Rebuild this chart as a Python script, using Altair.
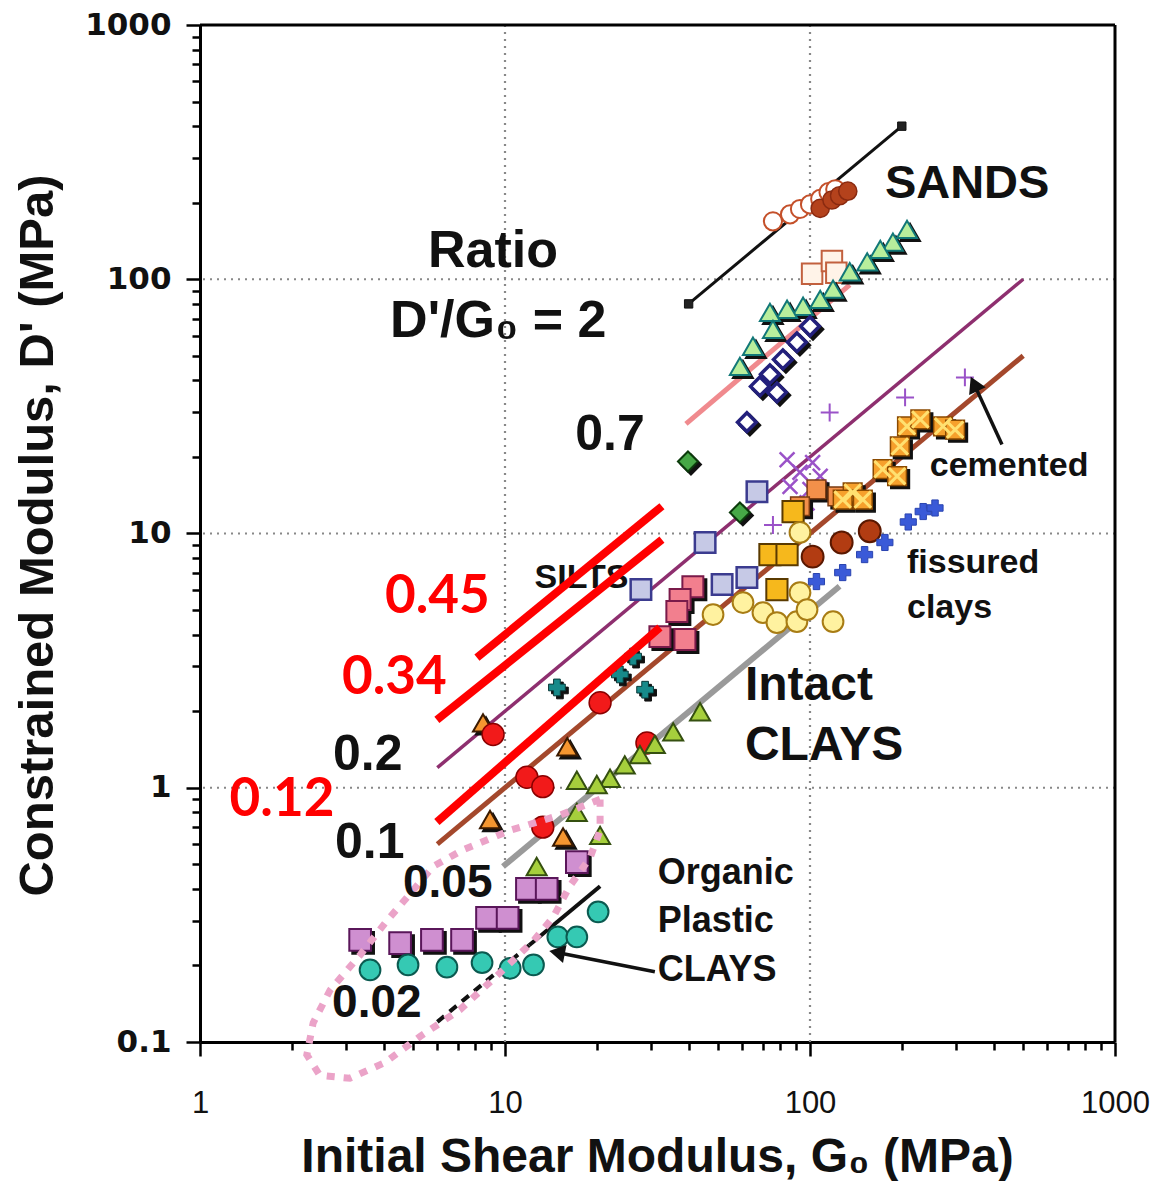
import altair as alt
import pandas as pd

# ---------------- axis ticks ----------------
x_ticks = [1, 2, 3, 4, 5, 6, 7, 8, 9, 10, 20, 30, 40, 50, 60, 70, 80, 90,
           100, 200, 300, 400, 500, 600, 700, 800, 900, 1000]
y_ticks = [0.1, 0.2, 0.3, 0.4, 0.5, 0.6, 0.7, 0.8, 0.9, 1, 2, 3, 4, 5, 6, 7, 8, 9,
           10, 20, 30, 40, 50, 60, 70, 80, 90, 100, 200, 300, 400, 500, 600, 700, 800, 900, 1000]
x_grid = [10, 100]
y_grid = [1, 10, 100]
frame_x = [1000]
frame_y = [1000]

# ---------------- ratio lines (endpoints) ----------------
line_r2_g = [40, 200];      line_r2_d = [80, 400]
line_r07_g = [39.2, 135];   line_r07_d = [27, 95]
line_r02_g = [6, 500];      line_r02_d = [1.2, 100]
line_r01_g = [6, 500];      line_r01_d = [0.6, 50]
line_r005_g = [9.85, 125];  line_r005_d = [0.49, 6.2]
line_r002a_g = [6, 12];     line_r002a_d = [0.12, 0.24]
line_r002b_g = [12, 20.5];  line_r002b_d = [0.24, 0.41]

red045_g = [8.09, 32.7];    red045_d = [3.25, 12.8]
red034_g = [5.98, 32.7];    red034_d = [1.85, 9.46]
red012_g = [5.98, 32.2];    red012_d = [0.734, 4.27]

loop_g = [20.5, 15.1, 10.4, 7.28, 5.81, 4.77, 4.10, 3.35, 2.67, 2.35, 2.24, 2.47, 3.10,
          4.04, 5.26, 7.12, 9.63, 12.4, 14.4, 16.3, 19.0, 20.5, 20.5]
loop_d = [0.90, 0.78, 0.68, 0.57, 0.49, 0.37, 0.30, 0.22, 0.160, 0.119, 0.089, 0.074, 0.072,
          0.083, 0.105, 0.134, 0.187, 0.25, 0.31, 0.41, 0.53, 0.68, 0.90]

# ---------------- data points ----------------
sand_oc_g = [75.6, 86, 92.7, 100, 108, 115, 121]
sand_oc_d = [169, 180, 189, 197, 207, 220, 226]
sand_fc_g = [108, 118, 125, 133]
sand_fc_d = [190, 205, 213, 222]
sand_sq_g = [101.6, 118, 122]
sand_sq_d = [105, 118, 106]
sand_tri_g = [208, 187, 170, 154, 135, 119, 108, 94.9, 84.1, 73.9, 75.6, 65.0, 58.9]
sand_tri_d = [157, 140, 131, 117, 107, 91.4, 83.4, 78.3, 76.2, 74.1, 63.5, 54.5, 45.4]
navy_dia_g = [100, 90.6, 81.5, 77.9, 68.5, 62.1, 73.9]
navy_dia_d = [65.3, 56.5, 48.4, 35.9, 37.9, 27.4, 42.3]
green_dia_g = [39.8, 58.9]
green_dia_d = [19.2, 12.1]
lav_sq_g = [67.0, 45.3, 51.5, 62.1, 27.9]
lav_sq_d = [14.6, 9.22, 6.30, 6.71, 6.02]
purple_plus_g = [116, 205, 322, 75.6]
purple_plus_d = [29.9, 34.3, 41.1, 10.8]
purple_x_g = [84.1, 92.7, 102, 86, 100, 97.8, 108]
purple_x_d = [19.5, 17.4, 19.0, 15.3, 14.9, 13.2, 16.8]
cement_g = [208, 230, 273, 299, 197, 173, 193, 138, 149, 128]
cement_d = [26.4, 28.1, 26.4, 25.6, 22.0, 17.9, 16.8, 14.5, 13.6, 13.6]
orange_sq_g = [123, 105, 92.7]
orange_sq_d = [14.0, 14.9, 12.8]
gold_sq_g = [88, 73.9, 84.1, 77.9]
gold_sq_d = [12.2, 8.26, 8.26, 6.02]
pale_c_g = [92.7, 92.7, 60.3, 70.1, 77.9, 90.6, 97.8, 119, 48.1]
pale_c_d = [10.1, 5.86, 5.35, 4.88, 4.46, 4.50, 5.02, 4.50, 4.80]
brown_c_g = [102, 127, 157]
brown_c_d = [8.11, 9.22, 10.2]
blue_plus_g = [105, 128, 151, 176, 210, 235, 257]
blue_plus_d = [6.47, 7.02, 8.26, 9.22, 11.1, 12.2, 12.6]
pink_sq_g = [41.3, 37.5, 36.6, 32.2, 38.9]
pink_sq_d = [6.18, 5.50, 4.93, 3.93, 3.83]
teal_x_g = [14.8, 23.8, 28.8, 26.3]
teal_x_d = [2.48, 2.79, 2.43, 3.28]
red_c_g = [9.14, 11.8, 13.3, 13.3, 20.5, 29.2]
red_c_d = [1.62, 1.10, 1.01, 0.70, 2.16, 1.50]
orange_tri_g = [8.47, 16.0, 8.93, 15.5]
orange_tri_d = [1.80, 1.45, 0.75, 0.64]
yg_tri_g = [43.6, 35.6, 31.0, 27.7, 24.7, 22.1, 20.0, 17.2, 17.2, 20.5, 12.7]
yg_tri_d = [1.99, 1.66, 1.48, 1.35, 1.23, 1.09, 1.03, 1.07, 0.80, 0.65, 0.49]
orchid_sq_g = [3.35, 4.53, 5.76, 7.23, 8.73, 10.2, 11.8, 13.7, 17.2]
orchid_sq_d = [0.252, 0.245, 0.252, 0.252, 0.308, 0.308, 0.40, 0.40, 0.51]
teal_c_g = [3.61, 4.81, 6.45, 8.41, 10.4, 12.4, 14.9, 17.2, 20.2]
teal_c_d = [0.192, 0.201, 0.197, 0.205, 0.195, 0.201, 0.259, 0.259, 0.325]

# arrows
arrow_cem_g = [426, 348];   arrow_cem_d = [22.4, 37.9]
arrow_org_g = [31.0, 15.1]; arrow_org_d = [0.189, 0.224]

# ---------------- text labels ----------------
black_txt = ["SANDS", "Ratio", "D'/G₀ = 2", "0.7", "cemented", "fissured", "clays", "SILTS",
             "Intact", "CLAYS", "0.2", "0.1", "0.05", "0.02", "Organic", "Plastic", "CLAYS"]
black_g = [176, 5.59, 4.20, 17.0, 247, 208, 208, 12.5, 61.2, 61.2, 2.73, 2.77, 4.63, 2.71, 31.7, 31.7, 31.7]
black_d = [237, 129, 68.4, 24.5, 18.4, 7.69, 5.11, 6.71, 2.52, 1.46, 1.35, 0.606, 0.423, 0.142, 0.463, 0.299, 0.192]
black_size = [47, 52, 52, 50, 34, 34, 34, 34, 48, 48, 50, 50, 46, 46, 36, 36, 36]
red_txt = ["0.45", "0.34", "0.12"]
red_g = [4.04, 2.92, 1.25]
red_d = [5.65, 2.71, 0.897]

# ---------------- scales & axes ----------------
xscale = alt.Scale(type="log", domain=[1, 1000], nice=False)
yscale = alt.Scale(type="log", domain=[0.1, 1000], nice=False)
dec_test = "abs(log(datum.value)/LN10 - round(log(datum.value)/LN10)) < 0.001"
lab_expr = "(" + dec_test + ") ? format(datum.value, '~g') : ''"

xaxis = alt.Axis(values=x_ticks, labelExpr=lab_expr, grid=False,
                 title="Initial Shear Modulus, G₀ (MPa)", titleFont="Liberation Sans",
                 titleFontSize=48, titleFontWeight="bold", titleColor="#111",
                 titleX=457, titleY=115, titleBaseline="middle", titleAlign="center",
                 labelFont="Liberation Sans", labelFontSize=31, labelColor="#111",
                 labelPadding=32, labelFlush=False, labelOverlap=False,
                 domainColor="black", domainWidth=3, tickColor="black", tickWidth=2.5,
                 tickSize={"condition": {"test": dec_test, "value": 14}, "value": 8})
yaxis = alt.Axis(values=y_ticks, labelExpr=lab_expr, grid=False,
                 title="Constrained Modulus, D' (MPa)", titleFont="Liberation Sans",
                 titleFontSize=49, titleFontWeight="bold", titleColor="#111",
                 titleX=-163, titleY=510, titleBaseline="middle", titleAlign="center",
                 labelFont="DejaVu Sans", labelFontSize=31, labelFontWeight="bold",
                 labelColor="#111", labelPadding=15, labelFlush=False, labelOverlap=False,
                 domainColor="black", domainWidth=3, tickColor="black", tickWidth=2.5,
                 tickSize={"condition": {"test": dec_test, "value": 14}, "value": 8})

X = alt.X("g:Q", scale=xscale, axis=xaxis)
Y = alt.Y("d:Q", scale=yscale, axis=yaxis)


def df2(g, d):
    return pd.DataFrame({"g": g, "d": d, "o": list(range(len(g)))})


def line(g, d, color, width, dash=None):
    kw = dict(color=color, strokeWidth=width, strokeCap="butt", clip=False)
    if dash:
        kw["strokeDash"] = dash
    return alt.Chart(df2(g, d)).mark_line(**kw).encode(x=X, y=Y, order="o:Q")


def pts(g, d, shape, fill, stroke, size, sw=1.5, shadow=False, filled=True):
    out = []
    if shadow:
        out.append(alt.Chart(df2(g, d)).mark_point(
            shape=shape, filled=True, fill="#111", stroke="#111", strokeWidth=sw,
            size=size, opacity=1, xOffset=3, yOffset=3).encode(x=X, y=Y))
    if filled:
        m = alt.Chart(df2(g, d)).mark_point(shape=shape, filled=True, fill=fill, stroke=stroke,
                                            strokeWidth=sw, size=size, opacity=1)
    else:
        m = alt.Chart(df2(g, d)).mark_point(shape=shape, filled=False, stroke=stroke,
                                            strokeWidth=sw, size=size, opacity=1)
    out.append(m.encode(x=X, y=Y))
    return out


PLUS = "M-1,0L1,0M0,-1L0,1"
XSH = "M-1,-1L1,1M-1,1L1,-1"

layers = []
# grid
layers.append(alt.Chart(pd.DataFrame({"g": x_grid})).mark_rule(
    color="#888", strokeWidth=2.2, strokeDash=[2, 5]).encode(x=X))
layers.append(alt.Chart(pd.DataFrame({"d": y_grid})).mark_rule(
    color="#888", strokeWidth=2.2, strokeDash=[2, 5]).encode(y=Y))
# frame (top and right)
layers.append(alt.Chart(pd.DataFrame({"g": frame_x})).mark_rule(
    color="black", strokeWidth=3).encode(x=X))
layers.append(alt.Chart(pd.DataFrame({"d": frame_y})).mark_rule(
    color="black", strokeWidth=3).encode(y=Y))

# ratio lines
layers.append(line(line_r2_g, line_r2_d, "#111", 3))
layers += pts(line_r2_g, line_r2_d, "square", "#222", "#111", 70, sw=1)
layers.append(line(line_r07_g, line_r07_d, "#f08a8e", 5))
layers.append(line(line_r02_g, line_r02_d, "#8e2f6f", 3.5))
layers.append(line(line_r01_g, line_r01_d, "#a4482c", 5))
layers.append(line(line_r005_g, line_r005_d, "#9a9a9a", 6))
layers.append(line(line_r002a_g, line_r002a_d, "#111", 4, dash=[9, 7]))
layers.append(line(line_r002b_g, line_r002b_d, "#111", 4))

# points
layers += pts(sand_oc_g, sand_oc_d, "circle", "#fff", "#c4502a", 330, sw=2)
layers += pts(sand_fc_g, sand_fc_d, "circle", "#b4421c", "#8a2a10", 330, sw=1.5)
layers += pts(sand_sq_g, sand_sq_d, "square", "#fff3e8", "#c2603e", 420, sw=2)
layers += pts(sand_tri_g, sand_tri_d, "triangle-up", "#b8ee9c", "#127878", 400, sw=2, shadow=True)
layers += pts(navy_dia_g, navy_dia_d, "diamond", "#fff", "#23207c", 350, sw=3.5, shadow=True)
layers += pts(green_dia_g, green_dia_d, "diamond", "#46a846", "#0b3b0b", 400, sw=2, shadow=True)
layers += pts(lav_sq_g, lav_sq_d, "square", "#c6c9e6", "#3b3b8f", 420, sw=2.5)
layers += pts(purple_plus_g, purple_plus_d, PLUS, "#9a52c8", "#9a52c8", 320, sw=2, filled=False)
layers += pts(purple_x_g, purple_x_d, XSH, "#9a52c8", "#9a52c8", 220, sw=2.5, filled=False)
layers += pts(orange_sq_g, orange_sq_d, "square", "#f3904a", "#7a3a10", 350, sw=1.5, shadow=True)
layers += pts(cement_g, cement_d, "square", "#f6a02c", "#8a4a00", 350, sw=1.5, shadow=True)
layers += pts(cement_g, cement_d, XSH, "#ffe070", "#ffe070", 270, sw=3, filled=False)
layers += pts(gold_sq_g, gold_sq_d, "square", "#f6b81c", "#5a3a00", 450, sw=2)
layers += pts(pale_c_g, pale_c_d, "circle", "#fff2a0", "#a87c14", 430, sw=2)
layers += pts(brown_c_g, brown_c_d, "circle", "#b23c12", "#5a1800", 480, sw=2)
layers += pts(blue_plus_g, blue_plus_d, "cross", "#3a5ad8", "#2a44b0", 260, sw=1)
layers += pts(pink_sq_g, pink_sq_d, "square", "#f27f8e", "#7a1a4a", 440, sw=2, shadow=True)
layers += pts(teal_x_g, teal_x_d, "cross", "#178a8a", "#0a3a3a", 280, sw=1, shadow=True)
layers += pts(orange_tri_g, orange_tri_d, "triangle-up", "#f59630", "#3a1a00", 400, sw=2, shadow=True)
layers += pts(red_c_g, red_c_d, "circle", "#f21a1a", "#8a0000", 480, sw=1.5)
layers += pts(yg_tri_g, yg_tri_d, "triangle-up", "#a6cf3c", "#355010", 400, sw=2)
layers += pts(orchid_sq_g, orchid_sq_d, "square", "#cf8fd0", "#5a165a", 470, sw=2, shadow=True)
layers += pts(teal_c_g, teal_c_d, "circle", "#35c9b3", "#0b5a50", 430, sw=2)

# pink dotted loop
layers.append(line(loop_g, loop_d, "#eba3c8", 7, dash=[8, 9]))

# black text
tdf = pd.DataFrame({"g": black_g, "d": black_d, "t": black_txt, "s": black_size})
layers.append(alt.Chart(tdf).mark_text(align="left", baseline="middle", font="Liberation Sans",
                                       fontWeight="bold", color="#111").encode(
    x=X, y=Y, text="t:N", size=alt.Size("s:Q", scale=None)))

# arrows
layers.append(line(arrow_cem_g, arrow_cem_d, "#111", 3.5))
layers.append(alt.Chart(df2(arrow_cem_g[1:], arrow_cem_d[1:])).mark_point(
    shape="triangle", filled=True, fill="#111", stroke="#111", size=220, angle=335, opacity=1).encode(x=X, y=Y))
layers.append(line(arrow_org_g, arrow_org_d, "#111", 3.5))
layers.append(alt.Chart(df2(arrow_org_g[1:], arrow_org_d[1:])).mark_point(
    shape="triangle", filled=True, fill="#111", stroke="#111", size=220, angle=281, opacity=1).encode(x=X, y=Y))

# red lines
layers.append(line(red045_g, red045_d, "#ff0000", 8))
layers.append(line(red034_g, red034_d, "#ff0000", 8))
layers.append(line(red012_g, red012_d, "#ff0000", 8))

rdf = pd.DataFrame({"g": red_g, "d": red_d, "t": red_txt})
layers.append(alt.Chart(rdf).mark_text(align="left", baseline="middle", font="Lato",
                                       fontWeight="bold", fontSize=53, color="#ff0000").encode(
    x=X, y=Y, text="t:N"))

chart = alt.layer(*layers).properties(
    width=915, height=1017,
    autosize=alt.AutoSizeParams(type="none"),
    padding={"left": 192, "top": 17, "right": 36, "bottom": 139},
).configure_view(stroke="black", strokeWidth=3).configure(background="white")

chart.save("out.html", embed_options={"renderer": "svg", "actions": False})
